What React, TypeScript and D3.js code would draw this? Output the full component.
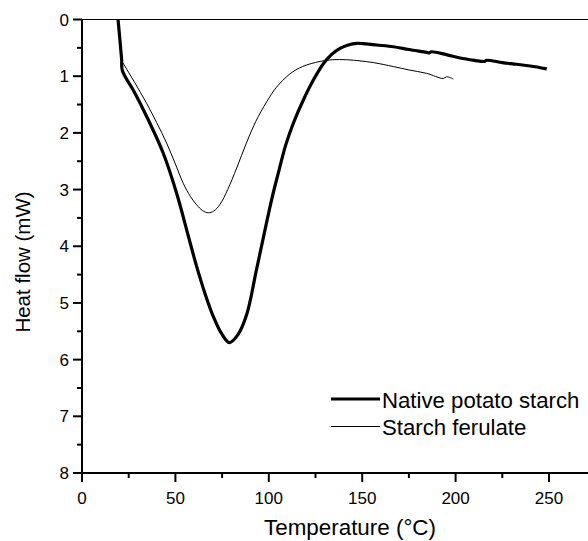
import React from "react";
import * as d3 from "d3";

const xMajor = [0, 50, 100, 150, 200, 250];
const xMinor = [25, 75, 125, 175, 225];
const yMajor = [0, 1, 2, 3, 4, 5, 6, 7, 8];
const yMinor = [0.5, 1.5, 2.5, 3.5, 4.5, 5.5, 6.5, 7.5];

const nativeT = [19.3, 21.2, 21.6, 28, 34.6, 43.5, 50.7, 57, 61.4, 66, 70.3, 74.5, 78.9, 83.5, 88.2, 93.5, 101.5, 105, 109, 113.5, 118.5, 124, 129.2, 133.5, 138.1, 142.5, 147, 152, 157.8, 166.7, 175, 184.5, 186, 187, 195, 202.4, 210, 215.5, 216.6, 225, 232.7, 240, 248.8];
const nativeV = [0, 0.7, 0.9, 1.28, 1.71, 2.36, 3.07, 3.83, 4.36, 4.85, 5.24, 5.53, 5.70, 5.56, 5.20, 4.40, 3.18, 2.72, 2.22, 1.80, 1.42, 1.06, 0.78, 0.62, 0.51, 0.45, 0.42, 0.43, 0.45, 0.48, 0.53, 0.58, 0.59, 0.57, 0.62, 0.68, 0.72, 0.74, 0.72, 0.76, 0.79, 0.82, 0.87];

const ferulateT = [21.8, 28, 34.6, 40, 45.3, 50, 54.2, 58, 61.4, 64.5, 67.6, 70.5, 73.9, 78, 82.8, 88, 93, 98.9, 104, 111.3, 118, 127.4, 134, 141.7, 148.8, 155.9, 166.7, 175, 184.5, 193.4, 195.2, 198.8];
const ferulateV = [0.76, 1.1, 1.48, 1.82, 2.18, 2.55, 2.89, 3.12, 3.27, 3.37, 3.41, 3.38, 3.26, 3.0, 2.62, 2.18, 1.80, 1.45, 1.20, 0.96, 0.83, 0.74, 0.71, 0.71, 0.73, 0.76, 0.83, 0.89, 0.95, 1.04, 1.01, 1.05];

const seriesNames = ["Native potato starch", "Starch ferulate"];

const FONT = "'Liberation Sans', Arial, Helvetica, sans-serif";

export default function App() {
  const x = d3.scaleLinear().domain([0, 250]).range([82, 549]);
  const y = d3.scaleLinear().domain([0, 8]).range([19.5, 473]);
  const line = d3
    .line<[number, number]>()
    .x((d) => x(d[0]))
    .y((d) => y(d[1]))
    .curve(d3.curveCatmullRom.alpha(0.5));
  const nativePts: [number, number][] = nativeT.map((t, i) => [t, nativeV[i]]);
  const ferPts: [number, number][] = ferulateT.map((t, i) => [t, ferulateV[i]]);
  const x0 = x(0);
  const yBottom = y(8);
  const yTop = y(0);

  return (
    <svg
      width={588}
      height={541}
      style={{ position: "absolute", left: 0, top: 0, background: "#fff" }}
      fontFamily={FONT}
    >
      <rect x={0} y={0} width={588} height={541} fill="#fff" />
      <line x1={x0} x2={588} y1={yTop} y2={yTop} stroke="#000" strokeWidth={1.2} />
      <path d={line(nativePts) || ""} fill="none" stroke="#000" strokeWidth={3.2} strokeLinejoin="round" />
      <path d={line(ferPts) || ""} fill="none" stroke="#000" strokeWidth={1} strokeLinejoin="round" />
      <line x1={x0} x2={x0} y1={yTop} y2={yBottom + 1} stroke="#000" strokeWidth={2} />
      {yMajor.map((v) => (
        <g key={"ym" + v}>
          <line x1={x0 - 9} x2={x0} y1={y(v)} y2={y(v)} stroke="#000" strokeWidth={2} />
          <text x={69} y={y(v)} dy="0.36em" textAnchor="end" fontSize={17}>
            {v}
          </text>
        </g>
      ))}
      {yMinor.map((v) => (
        <line key={"yn" + v} x1={x0 - 5} x2={x0} y1={y(v)} y2={y(v)} stroke="#000" strokeWidth={2} />
      ))}
      <line x1={x0 - 1} x2={588} y1={yBottom} y2={yBottom} stroke="#000" strokeWidth={2} />
      {xMajor.map((v) => (
        <g key={"xm" + v}>
          <line x1={x(v)} x2={x(v)} y1={yBottom} y2={yBottom + 9} stroke="#000" strokeWidth={2} />
          <text x={x(v)} y={503.5} textAnchor="middle" fontSize={17}>
            {v}
          </text>
        </g>
      ))}
      {xMinor.map((v) => (
        <line key={"xn" + v} x1={x(v)} x2={x(v)} y1={yBottom} y2={yBottom + 5} stroke="#000" strokeWidth={2} />
      ))}
      <text x={350} y={535} textAnchor="middle" fontSize={22.4}>
        Temperature (°C)
      </text>
      <text transform={`translate(30, 262) rotate(-90)`} textAnchor="middle" fontSize={20.5}>
        Heat flow (mW)
      </text>
      <line x1={331} x2={380} y1={399} y2={399} stroke="#000" strokeWidth={3.2} />
      <text x={382} y={407.5} fontSize={22.2}>
        {seriesNames[0]}
      </text>
      <line x1={331} x2={380} y1={426.5} y2={426.5} stroke="#000" strokeWidth={1} />
      <text x={382} y={435} fontSize={22.2}>
        {seriesNames[1]}
      </text>
    </svg>
  );
}
